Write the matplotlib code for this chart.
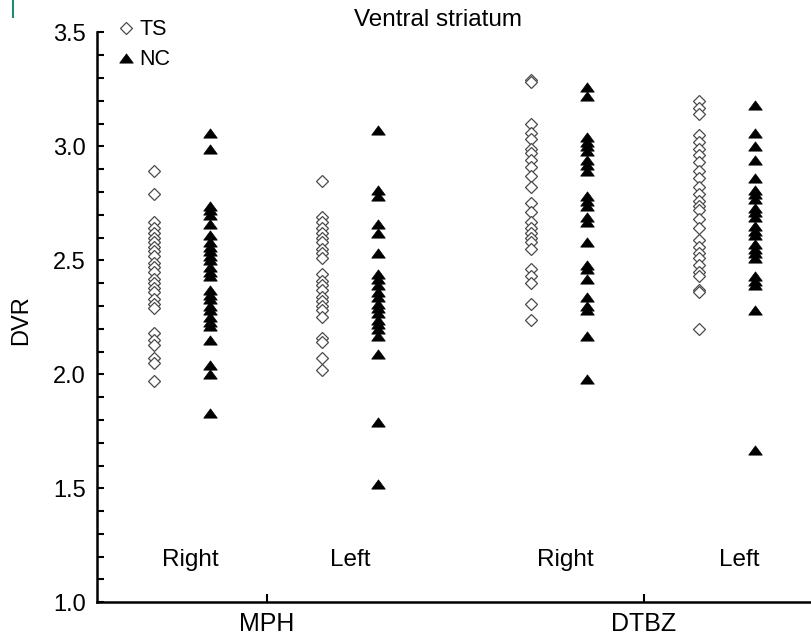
import matplotlib
matplotlib.use("Agg")
import matplotlib.pyplot as plt
from matplotlib.path import Path
from matplotlib.lines import Line2D
from matplotlib.ticker import MultipleLocator

plt.rcParams['font.family'] = ['Liberation Sans', 'DejaVu Sans']

# ---------------- data ----------------
drugs = ["MPH", "DTBZ"]
sides = ["Right", "Left"]
groups = ["TS", "NC"]
title = "Ventral striatum"
ylabel = "DVR"
yticks = [1.0, 1.5, 2.0, 2.5, 3.0, 3.5]

mph_right_ts = [2.89, 2.79, 2.67, 2.64, 2.62, 2.60, 2.58, 2.56, 2.54, 2.52, 2.49,
                2.47, 2.45, 2.42, 2.40, 2.38, 2.36, 2.33, 2.31, 2.29, 2.18, 2.15,
                2.13, 2.07, 2.05, 1.97]
mph_right_nc = [3.06, 2.99, 2.74, 2.72, 2.70, 2.66, 2.61, 2.58, 2.56, 2.54, 2.52,
                2.50, 2.47, 2.45, 2.43, 2.37, 2.35, 2.33, 2.30, 2.28, 2.25, 2.23,
                2.21, 2.15, 2.04, 2.00, 1.83]
mph_left_ts = [2.85, 2.69, 2.67, 2.64, 2.62, 2.60, 2.58, 2.55, 2.53, 2.51, 2.44,
               2.41, 2.39, 2.37, 2.34, 2.32, 2.30, 2.28, 2.25, 2.16, 2.14, 2.07, 2.02]
mph_left_nc = [3.07, 2.81, 2.78, 2.66, 2.62, 2.53, 2.44, 2.42, 2.39, 2.36, 2.34,
               2.31, 2.29, 2.27, 2.24, 2.22, 2.20, 2.17, 2.09, 1.79, 1.52]
dtbz_right_ts = [3.29, 3.28, 3.10, 3.06, 3.03, 2.99, 2.97, 2.94, 2.91, 2.87, 2.82,
                 2.75, 2.71, 2.67, 2.64, 2.62, 2.60, 2.58, 2.55, 2.46, 2.43, 2.40,
                 2.31, 2.24]
dtbz_right_nc = [3.26, 3.22, 3.04, 3.02, 3.00, 2.98, 2.94, 2.92, 2.89, 2.78, 2.76,
                 2.74, 2.69, 2.67, 2.58, 2.48, 2.46, 2.42, 2.34, 2.30, 2.28, 2.17, 1.98]
dtbz_left_ts = [3.20, 3.17, 3.14, 3.05, 3.02, 2.99, 2.96, 2.93, 2.89, 2.86, 2.82,
                2.79, 2.76, 2.74, 2.72, 2.68, 2.64, 2.59, 2.56, 2.53, 2.51, 2.48,
                2.45, 2.43, 2.37, 2.36, 2.20]
dtbz_left_nc = [3.18, 3.06, 3.00, 2.94, 2.86, 2.81, 2.79, 2.77, 2.73, 2.71, 2.69,
                2.65, 2.63, 2.61, 2.57, 2.55, 2.53, 2.51, 2.43, 2.41, 2.39, 2.28, 1.67]

data = {
    ("MPH", "Right", "TS"): mph_right_ts,
    ("MPH", "Right", "NC"): mph_right_nc,
    ("MPH", "Left", "TS"): mph_left_ts,
    ("MPH", "Left", "NC"): mph_left_nc,
    ("DTBZ", "Right", "TS"): dtbz_right_ts,
    ("DTBZ", "Right", "NC"): dtbz_right_nc,
    ("DTBZ", "Left", "TS"): dtbz_left_ts,
    ("DTBZ", "Left", "NC"): dtbz_left_nc,
}

# ---------------- layout ----------------
col_offset = {("Right", "TS"): -0.30, ("Right", "NC"): -0.15,
              ("Left", "TS"): 0.146, ("Left", "NC"): 0.295}
label_offset = {("MPH", "Right"): -0.203, ("MPH", "Left"): 0.222,
                ("DTBZ", "Right"): -0.209, ("DTBZ", "Left"): 0.254}

fig = plt.figure(figsize=(8.11, 6.35), dpi=100)
ax = fig.add_axes([0.1192, 0.0515, 0.8808, 0.8976])

tri = Path([(-1, -0.68), (1, -0.68), (0, 0.68), (-1, -0.68)],
           [Path.MOVETO, Path.LINETO, Path.LINETO, Path.CLOSEPOLY])

labeled = set()
for i, drug in enumerate(drugs):
    for side in sides:
        for g in groups:
            vals = data[(drug, side, g)]
            xs = [i + 1 + col_offset[(side, g)]] * len(vals)
            lab = g if g not in labeled else None
            labeled.add(g)
            if g == "TS":
                ax.plot(xs, vals, ls='none', marker='D', ms=6.6, mfc='white',
                        mec='#4a4a4a', mew=0.9, label=lab, clip_on=False)
            else:
                ax.plot(xs, vals, ls='none', marker=tri, ms=9.8, mfc='black',
                        mec='black', mew=0.5, label=lab, clip_on=False)
        ax.text(i + 1 + label_offset[(drug, side)], 1.186, side,
                ha='center', va='center', fontsize=17.5)

ax.set_xlim(0.549, 2.443)
ax.set_ylim(1.0, 3.5)
ax.set_xticks([1, 2])
ax.set_xticklabels(drugs)
ax.set_yticks(yticks)
ax.set_yticklabels([f"{v:.1f}" for v in yticks])
ax.yaxis.set_minor_locator(MultipleLocator(0.1))

for s in ("top", "right"):
    ax.spines[s].set_visible(False)
for s in ("left", "bottom"):
    ax.spines[s].set_linewidth(1.8)

ax.tick_params(axis='y', which='both', direction='in', length=5, width=1.5,
               labelsize=17, pad=8)
ax.tick_params(axis='x', which='major', direction='in', length=6, width=1.5,
               labelsize=18, pad=7)

ax.set_ylabel(ylabel, fontsize=17)
ax.yaxis.set_label_coords(-0.090, 0.495)

fig.text(0.540, 0.968, title, ha='center', va='center', fontsize=17.5)

ax.legend(loc='upper left', bbox_to_anchor=(0.143, 0.970),
          bbox_transform=fig.transFigure, frameon=False, fontsize=15.5,
          handlelength=0.9, handletextpad=0.2, labelspacing=0.42,
          borderpad=0, borderaxespad=0)

fig.add_artist(Line2D([0.0155, 0.0155], [1.0, 0.974], transform=fig.transFigure,
                      color='#1e8c6e', lw=1.5))

fig.savefig('out.png', dpi=100)
